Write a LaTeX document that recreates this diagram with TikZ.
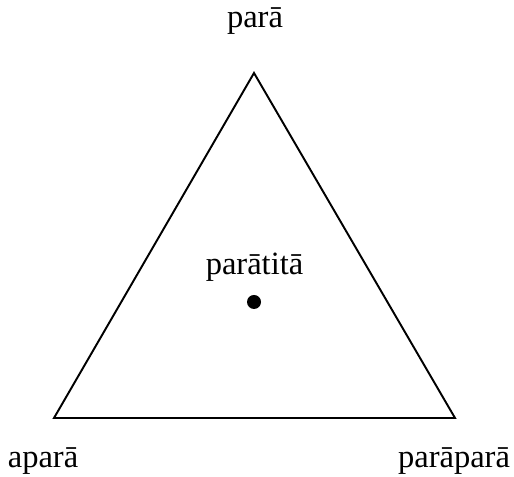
\documentclass[tikz,border=0pt]{standalone}
\usepackage{fontspec}
\setmainfont{Liberation Serif}
\usepackage{tikz}
\usetikzlibrary{positioning}

\begin{document}
\begin{tikzpicture}[
  font=\fontsize{18.5}{22}\selectfont,
  lbl/.style={anchor=base,inner sep=0pt},
  side/.style={line width=1.1pt,line join=miter}]
\useasboundingbox (0,0) rectangle (10.28,9.54);
% vertices
\coordinate (vtop) at (5.08,8.08);
\coordinate (vleft) at (1.08,1.18);
\coordinate (vright) at (9.10,1.18);
\draw[side] (vtop) -- (vleft) -- (vright) -- cycle;
% labels
\node[lbl] (para) at (5.10,8.98) {parā};
\node[lbl] (apara) at (0.86,0.18) {aparā};
\node[lbl] (parapara) at (9.08,0.18) {parāparā};
\node[lbl] (paratita) at (5.09,4.04) {parātitā};
% centre
\node[circle,fill=black,inner sep=0pt,minimum size=0.28cm] (centre) at (5.08,3.50) {};
\end{tikzpicture}
\end{document}
